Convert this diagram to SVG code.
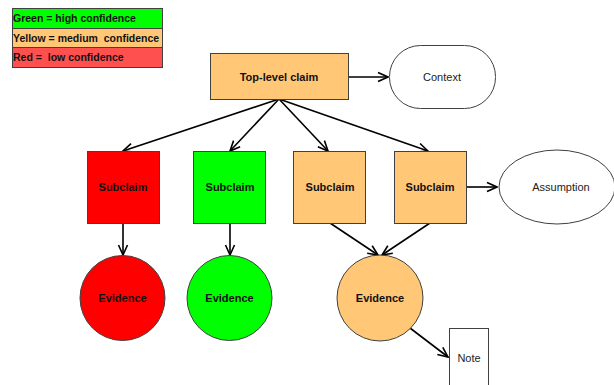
<svg xmlns="http://www.w3.org/2000/svg" width="614" height="385" viewBox="0 0 614 385">
<defs>
<marker id="arr" markerWidth="12" markerHeight="12" viewBox="0 0 12 12" refX="11" refY="6" orient="auto" markerUnits="userSpaceOnUse">
<path d="M1,1.5 L11,6 L1,10.5" fill="none" stroke="#000" stroke-width="1.6"/>
</marker>
<style>
.box{stroke:#404040;stroke-width:1}
.or{fill:#FFC776}
.rd{fill:#FF0000}
.gr{fill:#00FF00}
.wh{fill:#FFFFFF}
.b{font-family:"Liberation Sans",Arial,sans-serif;font-weight:bold;font-size:11px;fill:#111;text-anchor:middle}
.n{font-family:"Liberation Sans",Arial,sans-serif;font-size:11px;fill:#222;text-anchor:middle}
.lg{font-family:"Liberation Sans",Arial,sans-serif;font-weight:bold;font-size:10.5px;fill:#111;white-space:pre}
.c{fill:none;stroke:#000;stroke-width:1.6;marker-end:url(#arr)}
</style>
</defs>
<rect width="614" height="385" fill="#fff"/>
<g id="legend">
<rect x="12.5" y="8.5" width="150" height="20" fill="#00FF00" class="box"/>
<rect x="12.5" y="28.5" width="150" height="19" fill="#FFC776" class="box"/>
<rect x="12.5" y="47.5" width="150" height="20" fill="#FF5050" class="box"/>
<text x="13" y="22" class="lg" xml:space="preserve">Green = high confidence</text>
<text x="13" y="41.5" class="lg" xml:space="preserve">Yellow = medium  confidence</text>
<text x="13" y="61" class="lg" xml:space="preserve">Red =  low confidence</text>
</g>
<g id="connectors">
<line x1="348" y1="77" x2="388" y2="77" class="c"/>
<line x1="279" y1="99" x2="123" y2="151" class="c"/>
<line x1="279" y1="99" x2="230" y2="151" class="c"/>
<line x1="279" y1="99" x2="328" y2="151" class="c"/>
<line x1="279" y1="99" x2="428" y2="151" class="c"/>
<line x1="466" y1="187" x2="497" y2="187" class="c"/>
<line x1="123" y1="223" x2="123" y2="255" class="c"/>
<line x1="230" y1="223" x2="230" y2="255" class="c"/>
<line x1="330" y1="223" x2="378" y2="255" class="c"/>
<line x1="430" y1="223" x2="382" y2="255" class="c"/>
<line x1="410" y1="328" x2="448" y2="357" class="c"/>
</g>
<g id="top">
<rect x="210.5" y="53.5" width="138" height="46" class="box or"/>
<text x="279" y="81" class="b">Top-level claim</text>
</g>
<g id="context">
<rect x="389.5" y="45.5" width="106" height="63" rx="31" ry="31" class="box wh"/>
<text x="442" y="81" class="n">Context</text>
</g>
<g id="sub1">
<rect x="87.5" y="151.5" width="72" height="72" class="box rd"/>
<text x="123" y="191" class="b">Subclaim</text>
</g>
<g id="sub2">
<rect x="193.5" y="151.5" width="72" height="72" class="box gr"/>
<text x="230" y="191" class="b">Subclaim</text>
</g>
<g id="sub3">
<rect x="293.5" y="151.5" width="72" height="72" class="box or"/>
<text x="330" y="191" class="b">Subclaim</text>
</g>
<g id="sub4">
<rect x="394.5" y="151.5" width="72" height="72" class="box or"/>
<text x="430" y="191" class="b">Subclaim</text>
</g>
<g id="assumption">
<ellipse cx="557" cy="187" rx="58" ry="37" class="box wh"/>
<text x="561" y="191" class="n">Assumption</text>
</g>
<g id="ev1">
<circle cx="122.5" cy="298" r="42.5" class="box rd"/>
<text x="122.5" y="302" class="b">Evidence</text>
</g>
<g id="ev2">
<circle cx="229.5" cy="298" r="42.5" class="box gr"/>
<text x="229.5" y="302" class="b">Evidence</text>
</g>
<g id="ev3">
<circle cx="380" cy="298" r="43" class="box or"/>
<text x="380" y="302" class="b">Evidence</text>
</g>
<g id="note">
<rect x="449.5" y="328.5" width="39" height="62" class="box wh"/>
<text x="469" y="362" class="n">Note</text>
</g>
</svg>
